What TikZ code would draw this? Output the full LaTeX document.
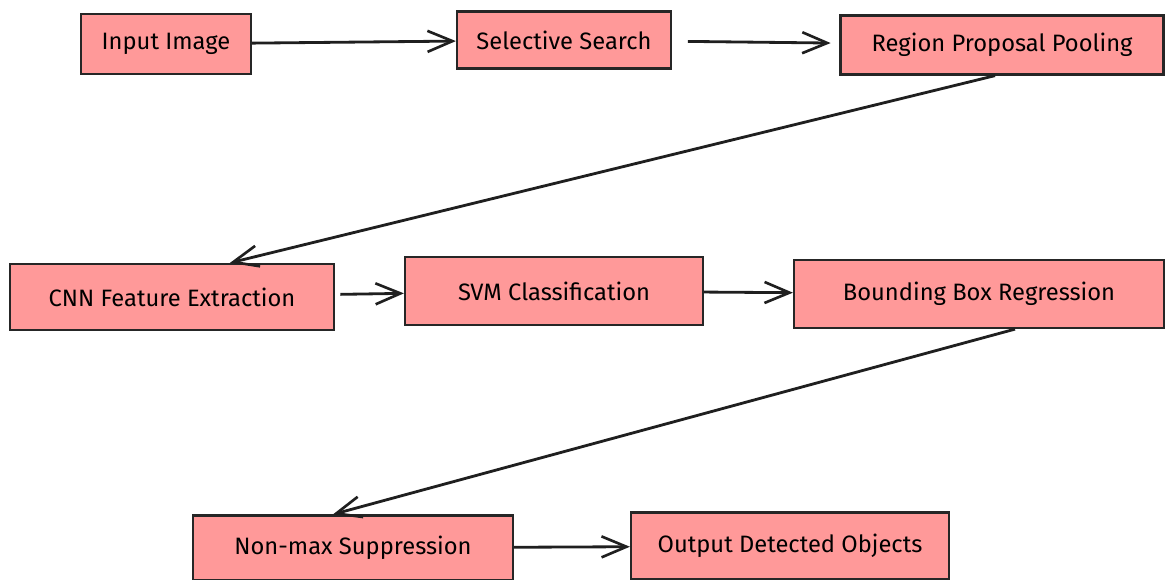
\documentclass[tikz,border=0pt]{standalone}
\usepackage{fontspec}
\setmainfont{Fira Sans}
\usetikzlibrary{arrows.meta, positioning, calc}
\definecolor{boxpink}{RGB}{255,153,153}

\begin{document}
\begin{tikzpicture}[
        x=0.02cm, y=-0.02cm,
        >={Straight Barb[length=5mm, width=4.2mm, line width=1.5pt]},
        block/.style={rectangle, draw=black!85, fill=boxpink, line width=1.3pt, inner sep=0pt, font=\fontsize{13.5}{15}\selectfont},
        flow/.style={->, line width=1.6pt, black!88}
    ]
        \useasboundingbox (0,0) rectangle (1165,580);

        % Fila superior
        \node[block, minimum width=3.4cm, minimum height=1.2cm] (input) at (166,44) {Input Image};
        \node[block, minimum width=4.28cm, minimum height=1.14cm] (select) at (564,40) {Selective Search};
        \node[block, minimum width=6.46cm, minimum height=1.18cm] (pool) at (1002,45) {Region Proposal Pooling};

        % Fila central
        \node[block, minimum width=6.48cm, minimum height=1.32cm] (cnn) at (172,297) {CNN Feature Extraction};
        \node[block, minimum width=5.96cm, minimum height=1.36cm] (svm) at (554,291) {SVM Classification};
        \node[block, minimum width=7.4cm, minimum height=1.36cm] (bbox) at (979,294) {Bounding Box Regression};

        % Fila inferior
        \node[block, minimum width=6.4cm, minimum height=1.3cm] (nms) at (353,548) {Non-max Suppression};
        \node[block, minimum width=6.36cm, minimum height=1.34cm] (output) at (790,546) {Output Detected Objects};

        % Conexiones
        \draw[flow] (input) -- (select);
        \draw[flow, shorten <=9pt, shorten >=5pt] (select) -- (pool);
        \draw[flow] ([xshift=-0.14cm]pool.south) -- ([xshift=1.16cm]cnn.north);
        \draw[flow, shorten <=3pt] (cnn) -- (svm);
        \draw[flow] (svm) -- (bbox);
        \draw[flow] ([xshift=0.72cm]bbox.south) -- ([xshift=-0.4cm]nms.north);
        \draw[flow] (nms) -- (output);

    \end{tikzpicture}
\end{document}
